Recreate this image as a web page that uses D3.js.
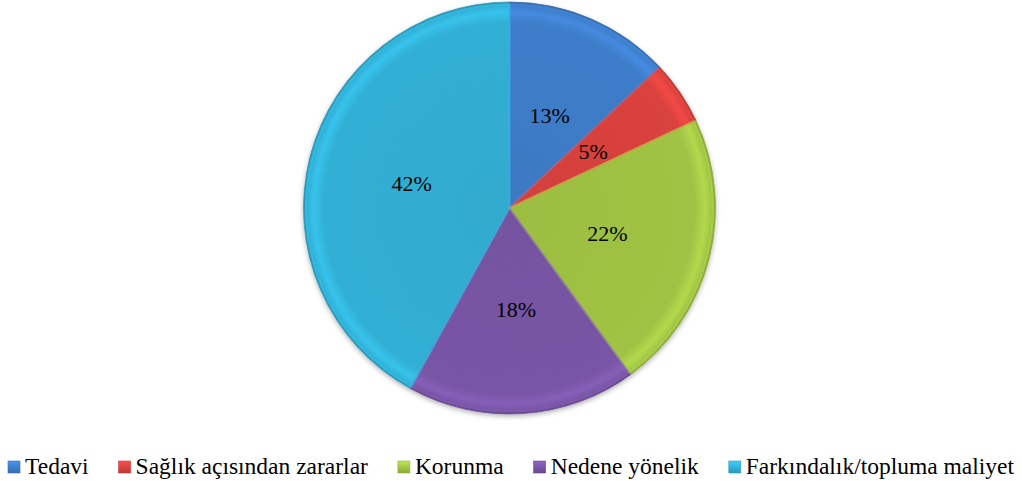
<!DOCTYPE html>
<html>
<head>
<meta charset="utf-8">
<script src="https://cdn.jsdelivr.net/npm/d3@7/dist/d3.min.js"></script>
<style>
  html, body { margin: 0; padding: 0; background: #fff; }
  svg { display: block; }
</style>
</head>
<body>
<svg id="chart" width="1022" height="481"></svg>
<script>
const categories = ["Tedavi", "Sağlık açısından zararlar", "Korunma", "Nedene yönelik", "Farkındalık/topluma maliyet"];
const values = [13, 5, 22, 18, 42];
const colors = ["#3E7DC9", "#D9423E", "#A0C344", "#7855A5", "#31AFD4"];

const FONT = '"Liberation Serif"';
const cx = 509.5, cy = 208, R = 206;
const svg = d3.select("#chart");
const defs = svg.append("defs");

const f = defs.append("filter").attr("id", "shadow").attr("x", "-10%").attr("y", "-10%").attr("width", "120%").attr("height", "125%");
f.append("feDropShadow").attr("dx", 0).attr("dy", 2).attr("stdDeviation", 2.5).attr("flood-color", "#000").attr("flood-opacity", 0.3);

colors.forEach((c, i) => {
  const base = d3.color(c);
  const g = defs.append("radialGradient").attr("id", "g" + i)
    .attr("gradientUnits", "userSpaceOnUse").attr("cx", 0).attr("cy", 0).attr("r", R)
    .attr("fx", 0).attr("fy", 0);
  g.append("stop").attr("offset", "0%").attr("stop-color", base.darker(0.08));
  g.append("stop").attr("offset", "90%").attr("stop-color", base);
  g.append("stop").attr("offset", "95%").attr("stop-color", base.brighter(0.3));
  g.append("stop").attr("offset", "98.5%").attr("stop-color", base);
  g.append("stop").attr("offset", "100%").attr("stop-color", base.darker(0.5));
});

const pie = d3.pie().sort(null).value(d => d)(values);
const arc = d3.arc().innerRadius(0).outerRadius(R);
const labelArc = d3.arc().innerRadius(101).outerRadius(101);

const gPie = svg.append("g").attr("transform", `translate(${cx},${cy})`);
const slices = gPie.append("g").attr("filter", "url(#shadow)");
slices.selectAll("path").data(pie).join("path")
  .attr("d", arc)
  .attr("fill", (d, i) => `url(#g${i})`)
  .attr("stroke", (d, i) => d3.color(colors[i]).darker(0.4))
  .attr("stroke-width", 0.7)
  .attr("stroke-linejoin", "round");

gPie.append("g").selectAll("path").data(pie).join("path")
  .attr("d", d3.arc().innerRadius(0).outerRadius(R - 2.5))
  .attr("fill", "none")
  .attr("stroke", (d, i) => d3.color(colors[i]).brighter(0.4))
  .attr("stroke-opacity", 0.4)
  .attr("stroke-width", 2);

gPie.append("g").selectAll("text").data(pie).join("text")
  .attr("transform", d => `translate(${labelArc.centroid(d)})`)
  .attr("text-anchor", "middle")
  .attr("dy", "0.35em")
  .style("font-family", FONT)
  .style("font-size", "22px")
  .attr("fill", "#000")
  .text(d => d.data + "%");

const legend = svg.append("g");
let x = 8;
const ly = 466;
categories.forEach((c, i) => {
  const base = d3.color(colors[i]);
  const lg = defs.append("linearGradient").attr("id", "lg" + i).attr("x1", 0).attr("y1", 0).attr("x2", 0).attr("y2", 1);
  lg.append("stop").attr("offset", "0%").attr("stop-color", base.brighter(0.5));
  lg.append("stop").attr("offset", "100%").attr("stop-color", base.darker(0.4));
  legend.append("rect").attr("x", x).attr("y", ly - 5).attr("width", 12).attr("height", 12)
    .attr("fill", `url(#lg${i})`).attr("stroke", base.darker(0.3)).attr("stroke-width", 0.6);
  const t = legend.append("text").attr("x", x + 17).attr("y", ly).attr("dy", "0.35em")
    .style("font-family", FONT).style("font-size", "23.5px").attr("fill", "#000").text(c);
  x = x + 17 + t.node().getComputedTextLength() + 30;
});
</script>
</body>
</html>
